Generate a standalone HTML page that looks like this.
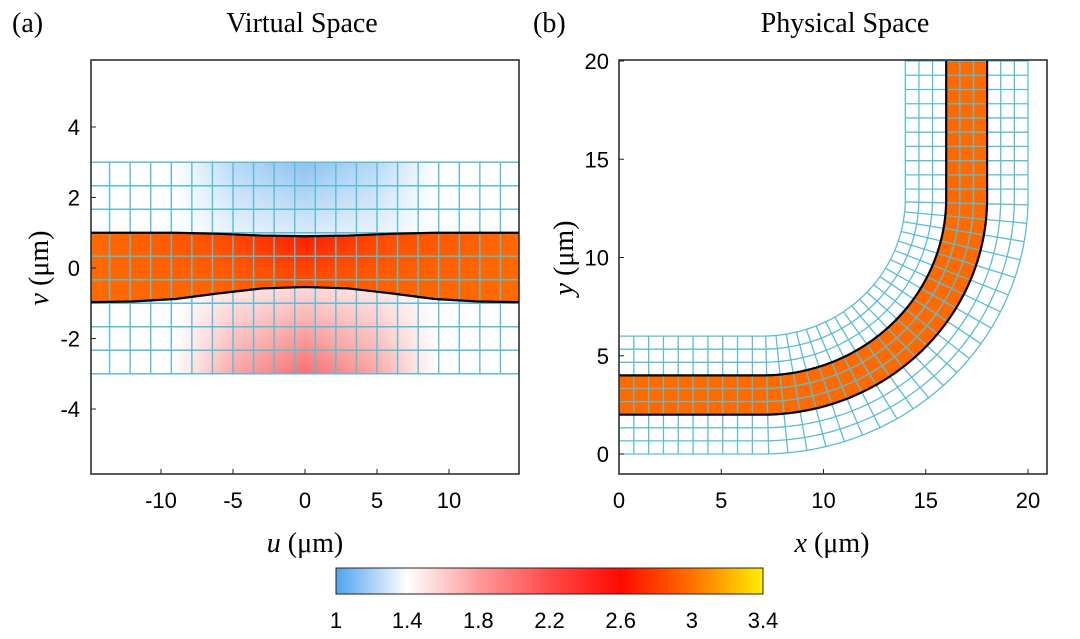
<!DOCTYPE html>
<html><head><meta charset="utf-8"><style>
body{margin:0;background:#fff;}
svg{display:block;}
text{font-family:"Liberation Sans",sans-serif;}
.serif{font-family:"Liberation Serif",serif;}
</style></head><body>
<svg id="fig" width="1080" height="639" xmlns="http://www.w3.org/2000/svg">
<defs>
<linearGradient id="cbar" x1="0" x2="1" y1="0" y2="0">
<stop offset="0" stop-color="#4fa3ee"/><stop offset="0.167" stop-color="#ffffff"/>
<stop offset="0.333" stop-color="#ff9a9a"/><stop offset="0.5" stop-color="#ff4a4a"/>
<stop offset="0.667" stop-color="#ff0a00"/><stop offset="0.833" stop-color="#ff7000"/>
<stop offset="1" stop-color="#ffee00"/></linearGradient>
<linearGradient id="blueH" x1="0" x2="1" y1="0" y2="0">
<stop offset="0" stop-color="#ffffff"/><stop offset="0.12" stop-color="#ffffff"/><stop offset="0.3" stop-color="#b4d8f6"/><stop offset="0.5" stop-color="#8cc2f2"/><stop offset="0.7" stop-color="#b4d8f6"/><stop offset="0.88" stop-color="#ffffff"/><stop offset="1" stop-color="#ffffff"/></linearGradient>
<linearGradient id="blueV" x1="0" x2="0" y1="0" y2="1">
<stop offset="0" stop-color="#fff" stop-opacity="0"/><stop offset="1" stop-color="#fff" stop-opacity="0.7"/></linearGradient>
<linearGradient id="redH" x1="0" x2="1" y1="0" y2="0">
<stop offset="0" stop-color="#ffffff"/><stop offset="0.12" stop-color="#ffffff"/><stop offset="0.3" stop-color="#f9a4a4"/><stop offset="0.5" stop-color="#f77070"/><stop offset="0.7" stop-color="#f9a4a4"/><stop offset="0.88" stop-color="#ffffff"/><stop offset="1" stop-color="#ffffff"/></linearGradient>
<linearGradient id="redV" x1="0" x2="0" y1="1" y2="0">
<stop offset="0" stop-color="#fff" stop-opacity="0"/><stop offset="1" stop-color="#fff" stop-opacity="0.75"/></linearGradient>
<linearGradient id="coreH" x1="0" x2="1" y1="0" y2="0">
<stop offset="0" stop-color="#ff6a00"/><stop offset="0.3" stop-color="#ff4c00"/><stop offset="0.5" stop-color="#ff1800"/><stop offset="0.7" stop-color="#ff4c00"/><stop offset="1" stop-color="#ff6a00"/></linearGradient>
<linearGradient id="coreV" x1="0" x2="0" y1="0" y2="1">
<stop offset="0" stop-color="#ff6a00" stop-opacity="0"/><stop offset="0.5" stop-color="#ff6a00" stop-opacity="0.5"/><stop offset="1" stop-color="#ff6a00" stop-opacity="0.9"/></linearGradient>
<clipPath id="clipA"><rect x="91" y="60" width="428" height="414"/></clipPath>
<clipPath id="clipB"><rect x="619" y="60" width="428" height="414"/></clipPath>
</defs>

<text x="12" y="32" font-size="28" class="serif">(a)</text>
<text x="302" y="32" font-size="28" text-anchor="middle" class="serif">Virtual Space</text>
<text x="533" y="32" font-size="28" class="serif">(b)</text>
<text x="845" y="32" font-size="28" text-anchor="middle" class="serif">Physical Space</text>

<g id="panelA" clip-path="url(#clipA)"></g>
<g id="panelB" clip-path="url(#clipB)"></g>
<g id="axesA"></g>
<g id="axesB"></g>

<text x="305" y="552" font-size="28" text-anchor="middle" class="serif"><tspan font-style="italic">u</tspan> (μm)</text>
<text transform="translate(48,268) rotate(-90)" font-size="28" text-anchor="middle" class="serif"><tspan font-style="italic">v</tspan> (μm)</text>
<text x="832" y="552" font-size="28" text-anchor="middle" class="serif"><tspan font-style="italic">x</tspan> (μm)</text>
<text transform="translate(573,258) rotate(-90)" font-size="28" text-anchor="middle" class="serif"><tspan font-style="italic">y</tspan> (μm)</text>

<rect x="336" y="568" width="427" height="26" fill="url(#cbar)" stroke="#222" stroke-width="1"/>
<g id="cbTicks"></g>
</svg>
<script>
const NS="http://www.w3.org/2000/svg";
const aXTicks=[-10,-5,0,5,10], aYTicks=[-4,-2,0,2,4];
const bXTicks=[0,5,10,15,20], bYTicks=[0,5,10,15,20];
const cbTicks=[1,1.4,1.8,2.2,2.6,3,3.4];
const wgTopV=[1,1,1,0.97,0.92,0.9,0.92,0.97,1,1,1];
const wgBotV=[-0.97,-0.95,-0.88,-0.72,-0.58,-0.54,-0.58,-0.72,-0.88,-0.95,-0.97];
const wgU=[-15,-12,-9,-6,-3,0,3,6,9,12,15];
function el(p,t,a){const e=document.createElementNS(NS,t);for(const k in a)e.setAttribute(k,a[k]);p.appendChild(e);return e;}
const ua=u=>305+u*14.4, va=v=>268-v*35.25;
const A=document.getElementById('panelA');
let r;
function region(y1,y2,h,v,name){
 r=el(A,'rect',{x:ua(-12),y:va(y1),width:ua(12)-ua(-12),height:va(y2)-va(y1),fill:'url(#'+h+')'});
 
 
 r=el(A,'rect',{x:ua(-12),y:va(y1),width:ua(12)-ua(-12),height:va(y2)-va(y1),fill:'url(#'+v+')'});
 
 }
region(3,0.9,'blueH','blueV','low-index-region');
region(-0.5,-3,'redH','redV','high-index-region');
let d='M'+wgU.map((u,i)=>ua(u)+','+va(wgTopV[i])).join(' L')+' L'+wgU.slice().reverse().map((u,i)=>ua(u)+','+va(wgBotV[wgU.length-1-i])).join(' L')+'Z';
r=el(A,'path',{d:d,fill:'url(#coreH)'});


r=el(A,'path',{d:d,fill:'url(#coreV)'});


for(let i=0;i<=21;i++){const u=-15+i*30/21;r=el(A,'line',{x1:ua(u),x2:ua(u),y1:va(3),y2:va(-3),stroke:'#5cbcd6','stroke-width':1.4});

}
for(let j=0;j<=9;j++){const v=-3+j*6/9;r=el(A,'line',{x1:ua(-15.2),x2:ua(15.2),y1:va(v),y2:va(v),stroke:'#5cbcd6','stroke-width':1.4});

}
r=el(A,'path',{d:'M'+wgU.map((u,i)=>ua(u)+','+va(wgTopV[i])).join(' L'),fill:'none',stroke:'#000','stroke-width':2.2,'stroke-linejoin':'round'});


r=el(A,'path',{d:'M'+wgU.map((u,i)=>ua(u)+','+va(wgBotV[i])).join(' L'),fill:'none',stroke:'#000','stroke-width':2.2,'stroke-linejoin':'round'});


const AA=document.getElementById('axesA');
el(AA,'rect',{x:91,y:60,width:428,height:414,fill:'none',stroke:'#222','stroke-width':1.5});
aXTicks.forEach(t=>{el(AA,'line',{x1:ua(t),x2:ua(t),y1:474,y2:469,stroke:'#222'});
r=el(AA,'text',{x:ua(t),y:508,'font-size':22,'text-anchor':'middle'});r.textContent=t;

});
aYTicks.forEach(t=>{el(AA,'line',{x1:91,x2:96,y1:va(t),y2:va(t),stroke:'#222'});
r=el(AA,'text',{x:80,y:va(t)+8,'font-size':22,'text-anchor':'end'});r.textContent=t;

});
const xb=x=>619+x*20.45, yb=y=>454-y*19.65;
const B=document.getElementById('panelB');
const cx=7,cy=13;
const Lb=Math.PI/2*10, Ltot=7+Lb+7;
function pt(s,rad){
 if(s<=7) return [s, cy-rad];
 if(s<=7+Lb){const th=(s-7)/10;return [cx+rad*Math.sin(th),cy-rad*Math.cos(th)];}
 return [cx+rad, cy+(s-7-Lb)];}
const NSTEP=200;
function pts(rad){const a=[];for(let i=0;i<=NSTEP;i++)a.push(pt(i*Ltot/NSTEP,rad));return a;}
function toD(a){return a.map(p=>xb(p[0]).toFixed(2)+','+yb(p[1]).toFixed(2)).join(' L');}
r=el(B,'path',{d:'M'+toD(pts(9))+' L'+toD(pts(11).reverse())+'Z',fill:'#ff6a00'});


for(let j=0;j<=9;j++){r=el(B,'path',{d:'M'+toD(pts(7+j*6/9)),fill:'none',stroke:'#5cbcd6','stroke-width':1.3});

}
const nS=Math.round(Ltot/0.72);
for(let i=0;i<=nS;i++){const s=i*Ltot/nS;const p1=pt(s,7),p2=pt(s,13);
r=el(B,'line',{x1:xb(p1[0]),y1:yb(p1[1]),x2:xb(p2[0]),y2:yb(p2[1]),stroke:'#5cbcd6','stroke-width':1.3});

}
[9,11].forEach(rad=>{r=el(B,'path',{d:'M'+toD(pts(rad)),fill:'none',stroke:'#000','stroke-width':2.2});

});
const BB=document.getElementById('axesB');
el(BB,'rect',{x:619,y:60,width:428,height:414,fill:'none',stroke:'#222','stroke-width':1.5});
bXTicks.forEach(t=>{el(BB,'line',{x1:xb(t),x2:xb(t),y1:474,y2:469,stroke:'#222'});
r=el(BB,'text',{x:xb(t),y:508,'font-size':22,'text-anchor':'middle'});r.textContent=t;

});
bYTicks.forEach(t=>{el(BB,'line',{x1:619,x2:624,y1:yb(t),y2:yb(t),stroke:'#222'});
r=el(BB,'text',{x:609,y:yb(t)+8,'font-size':22,'text-anchor':'end'});r.textContent=t;

});
const CB=document.getElementById('cbTicks');
const cbx=v=>336+(v-1)/2.4*427;
cbTicks.forEach(t=>{r=el(CB,'text',{x:cbx(t),y:628,'font-size':22,'text-anchor':'middle'});r.textContent=t;

});
</script>
</body></html>
